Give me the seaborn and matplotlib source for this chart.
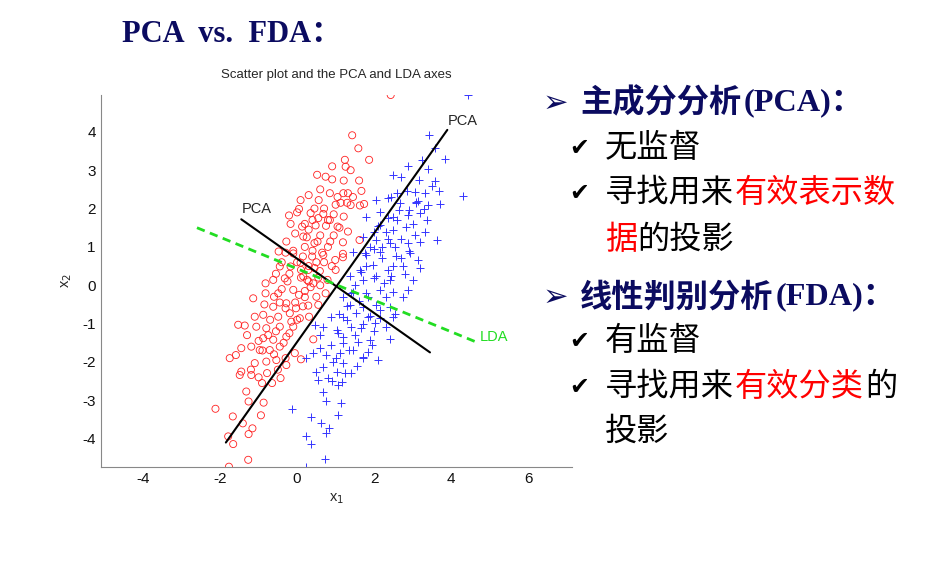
import pandas as pd
import matplotlib
matplotlib.use('Agg')
import matplotlib.pyplot as plt
import seaborn as sns

# ---- data ----
red_x = [2.43, 1.43, 1.59, 1.87, 1.24, 0.91, 1.39, 1.26, 0.52, 0.74, 0.91, 1.21, 1.61, 1.67, 1.32,
         0.30, 0.09, 0.56, 1.13, 1.74, 1.63, 1.39, -0.21, 0.05, 0.35, 0.68, 0.85, 1.21, -0.17, 0.13,
         0.48, 1.05, 1.32, 1.62, 1.19, 0.86, 0.53, 0.16, -0.28, -0.48, 1.19, 1.19, 0.68, 0.99, 0.39,
         -0.10, -0.45, -0.17, 0.09, 0.29, 0.59, 1.00, -0.82, -0.62, -0.32, 0.16, 0.26, 0.42, 0.79,
         -1.14, -0.82, -0.49, -0.10, 0.20, 0.50, 0.74, -0.62, -0.28, -0.03, 0.29, 0.55, -1.53, -1.36,
         -1.10, -0.88, -0.49, -0.19, 0.07, 0.31, -1.06, -0.80, -0.45, -0.10, -0.88, -0.62, -0.28, 0.42,
         -1.75, -1.59, -1.45, -1.19, -0.97, -0.71, -0.45, -0.06, -1.10, -0.80, -0.54, -0.28, 0.10,
         -1.45, -1.19, -0.78, -0.43, -1.49, -0.91, -0.65, -1.32, -0.87, -1.26, -2.12, -0.94, -1.67,
         -1.41, -1.16, -1.26, -1.79, -1.66, -1.27, -1.77,
         0.20, 0.40, 0.60, 0.80, 0.00, 0.30, 0.50, -0.20, 0.10, 0.35, -0.40, 0.05, -0.30, 0.00, -0.55,
         -0.35, -0.70, 0.60, 0.90, 1.10, 1.00, 0.70, 0.45, 0.20, -0.05, 0.95, 1.20, 0.60, -0.60, -0.90,
         -1.20, -0.30, 0.30, 0.55, 0.15, -0.15, 0.25, 0.70, 0.40, -0.40,
         -0.10, 0.15, 0.45, 0.75, 0.95, 1.05, 0.55, 0.30, -0.25, -0.05, -0.45, -0.75, -0.60, -1.00,
         -0.20, 0.20, 0.45, 0.65, -0.55, -0.85, -1.30, -1.00, -0.50, 0.80, 1.30, 0.10, -0.30, 0.85,
         1.45, 0.00]
red_y = [4.96, 3.91, 3.57, 3.27, 3.27, 3.10, 3.00, 3.09, 2.88, 2.83, 2.76, 2.73, 2.73, 2.46, 2.40,
         2.35, 2.22, 2.22, 2.15, 2.12, 2.08, 2.09, 1.82, 1.99, 1.88, 1.86, 1.70, 1.79, 1.60, 1.53,
         1.56, 1.53, 1.40, 1.18, 1.12, 1.14, 1.14, 1.27, 1.14, 0.88, 0.82, 0.73, 0.79, 0.66, 0.75,
         0.83, 0.49, 0.49, 0.59, 0.40, 0.37, 0.40, 0.05, 0.14, 0.18, 0.23, 0.14, 0.05, 0.14,
         -0.34, -0.21, -0.21, -0.12, -0.31, -0.30, -0.21, -0.56, -0.47, -0.60, -0.53, -0.51, -1.03, -1.05,
         -0.82, -0.77, -0.82, -0.73, -0.86, -0.82, -1.08, -1.12, -1.08, -1.08, -1.38, -1.42, -1.34, -1.41,
         -1.90, -1.82, -1.64, -1.60, -1.69, -1.69, -1.60, -1.77, -2.03, -1.99, -1.95, -2.08, -1.93,
         -2.25, -2.34, -2.29, -2.42, -2.34, -2.55, -2.55, -2.77, -3.06, -3.03, -3.22, -3.39, -3.42,
         -3.60, -3.73, -3.88, -3.94, -4.14, -4.55, -4.73,
         1.00, 0.90, 1.30, 1.00, 0.60, 0.50, 0.60, 0.30, 0.20, -0.05, -0.10, -0.25, -0.60, -0.90, -1.20,
         -1.50, -0.90, 0.00, 0.50, 1.50, 2.10, 2.00, 2.00, 1.60, 1.35, 1.30, 2.40, 2.50, -0.30, -1.70,
         -2.20, -1.90, 0.10, 0.20, -0.55, -0.95, 1.25, 0.60, 1.70, 0.60,
         0.90, 0.75, 1.10, 1.55, 1.85, 2.30, 1.75, 1.45, 0.10, -0.45, -0.45, -1.30, -1.80, -1.45,
         -1.25, -0.15, 0.45, 0.85, 0.30, -0.50, -1.30, -2.40, -2.20, 1.70, 2.15, 0.40, 0.85, 2.40,
         2.30, 1.90]

blue_x = [4.45, 3.43, 3.59, 3.85, 3.25, 3.41, 2.88, 2.49, 2.71, 3.17, 3.59, 4.31, 3.68, 3.31, 3.06,
          2.06, 2.36, 2.67, 3.10, 3.41, 3.71, 1.80, 2.15, 2.49, 2.88, 3.20, 3.36, 2.84, 2.49, 2.15,
          3.31, 3.62, 3.19, 2.88, 2.41, 2.06, 1.71, 1.45, 1.80, 2.15, 2.58, 2.93, 3.14, 2.75, 2.36,
          1.97, 1.63, 1.37, 1.71, 2.06, 2.41, 3.01, 2.88, 2.49, 2.15, 1.80, 1.45, 1.19, 1.37, 1.71,
          2.06, 2.41, 2.49, 2.15, 1.84, 1.54, 1.19, 0.89, 0.68, 0.46, 1.04, 1.39, 1.67, 2.03, 2.41,
          1.89, 1.58, 1.19, 0.89, 0.59, 0.42, 0.24, 0.76, 1.11, 1.45, 1.84, 2.10, 1.71, 1.19, 0.94,
          0.68, 1.04, 1.39, 0.50, 0.55, 0.81, 1.16, 0.68, 1.06, 0.75, 1.13, -0.13, 0.36, 0.62, 0.83,
          1.05, 0.75, 0.24, 0.35, 0.72, 0.22,
          2.20, 2.50, 2.00, 1.80, 2.30, 1.60, 2.70, 3.00, 3.10, 3.15, 2.60, 2.30, 1.90, 1.50, 1.30,
          1.50, 1.20, 1.90, 2.20, 2.80, 2.00, 1.70, 1.00, 2.60, 2.45, 2.90, 1.40, 1.75, 2.10, 2.55,
          2.00, 2.35, 2.65, 2.85, 3.30, 2.70, 2.25, 1.85, 1.65, 2.45, 2.15, 1.70, 1.35, 1.05, 1.25,
          0.90, 1.55, 1.30, 2.00, 3.05, 2.35, 1.95, 2.75, 3.20, 1.10, 0.60, 2.30, 2.90, 3.50, 2.55]
blue_y = [4.96, 3.92, 3.57, 3.28, 3.27, 3.02, 3.11, 2.88, 2.83, 2.75, 2.73, 2.33, 2.46, 2.40, 2.44,
          2.22, 2.27, 2.14, 2.18, 2.09, 2.12, 1.79, 1.92, 1.79, 1.83, 1.88, 1.70, 1.53, 1.44, 1.57,
          1.40, 1.18, 1.14, 1.09, 1.09, 1.18, 1.27, 0.88, 0.79, 0.88, 0.75, 0.83, 0.66, 0.49, 0.40,
          0.53, 0.40, 0.23, 0.14, 0.23, 0.14, 0.14, -0.12, -0.17, -0.12, -0.21, -0.17, -0.30, -0.51, -0.56,
          -0.51, -0.56, -0.82, -0.86, -0.82, -0.73, -0.82, -0.82, -1.08, -1.03, -1.16, -1.08, -1.12, -0.99, -1.41,
          -1.42, -1.47, -1.34, -1.56, -1.64, -1.77, -1.90, -1.82, -1.77, -1.69, -1.73, -1.95, -1.86, -2.03, -1.99,
          -2.12, -2.25, -2.29, -2.25, -2.47, -2.42, -2.51, -2.77, -2.60, -3.03, -3.06, -3.22, -3.44, -3.60, -3.73,
          -3.38, -3.86, -3.94, -4.14, -4.54, -4.73,
          1.00, 0.50, 0.20, 0.50, -0.30, -0.40, 1.20, 1.60, 2.15, 2.20, 1.70, 1.40, 1.00, 0.00, -0.90,
          -1.30, -1.50, -0.80, 0.70, 0.30, -1.20, -1.90, -1.90, 2.40, 2.30, 0.90, -0.20, 0.85, 1.55, 1.00,
          1.40, 1.75, 1.95, 2.45, 2.00, 0.70, 0.05, -0.30, 0.35, 0.25, -0.65, -1.00, -1.70, -1.25, -2.30,
          -2.50, -2.10, -0.55, 0.95, 1.30, 1.20, -1.55, -0.30, 0.45, -0.75, -1.30, -1.10, 1.95, 2.60, -0.75]

# projection axes (end points)
pca1_x = [-1.85, 3.90]
pca1_y = [-4.10, 4.05]
pca2_x = [-1.45, 3.45]
pca2_y = [1.72, -1.75]
lda_x = [-2.60, 4.70]
lda_y = [1.50, -1.50]

x_ticks = [-4, -2, 0, 2, 4, 6]
y_ticks = [-4, -3, -2, -1, 0, 1, 2, 3, 4]

red_df = pd.DataFrame({'x1': red_x, 'x2': red_y})
blue_df = pd.DataFrame({'x1': blue_x, 'x2': blue_y})

W, H = 943, 568
sns.set_theme(style='white')
plt.rcParams['font.family'] = ['Liberation Sans', 'DejaVu Sans']
plt.rcParams['axes.unicode_minus'] = False

fig = plt.figure(figsize=(W / 100, H / 100), dpi=100)
ax = fig.add_axes([100.7 / W, 1 - 466.7 / H, 471 / W, 371.7 / H])

sns.scatterplot(data=red_df, x='x1', y='x2', marker='o', s=26, facecolor='none',
                edgecolor='#ff2020', linewidth=0.6, ax=ax)
sns.scatterplot(data=blue_df, x='x1', y='x2', marker='+', s=32, color='#3535ff',
                edgecolor='#3535ff', linewidth=0.7, ax=ax)

ax.plot(pca1_x, pca1_y, color='black', lw=1.5)
ax.plot(pca2_x, pca2_y, color='black', lw=1.5)
ax.plot(lda_x, lda_y, color='#22dd22', lw=2, ls=(0, (3, 2)))
ax.text(pca1_x[1], pca1_y[1] + 0.05, 'PCA', fontsize=10.5, ha='left', va='bottom')
ax.text(pca2_x[0], pca2_y[0] + 0.08, 'PCA', fontsize=10.5, ha='left', va='bottom')
ax.text(lda_x[1] + 0.05, lda_y[1] + 0.15, 'LDA', fontsize=10.5, color='#22dd22', ha='left', va='center')

ax.set_xlim(-5.1, 7.13)
ax.set_ylim(-4.73, 4.96)
ax.set_xticks(x_ticks)
ax.set_yticks(y_ticks)
ax.tick_params(direction='in', length=3, labelsize=11, colors='#111111', width=0.6)
for s in ['top', 'right']:
    ax.spines[s].set_visible(False)
for s in ['left', 'bottom']:
    ax.spines[s].set_color('#888888')
    ax.spines[s].set_linewidth(0.8)
ax.set_xlabel('x$_1$', fontsize=10.5, labelpad=4)
ax.set_ylabel('x$_2$', fontsize=10.5, labelpad=6)
ax.set_title('Scatter plot and the PCA and LDA axes', fontsize=9.5, pad=12)

# ---- slide text ----
def fx(px):
    return px / W

def fy(py):
    return 1 - py / H

navy = '#0b0b60'
serif_cjk = ['Liberation Serif', 'Noto Sans CJK SC']
cjk = ['Noto Sans CJK SC', 'DejaVu Sans']
fs = 23.2
em = 32.5

fig.text(fx(122), fy(34), 'PCA  vs.  FDA：', fontsize=22, fontweight='bold',
         color=navy, family=serif_cjk, va='center')

def heading(y, cjk_txt, latin_txt):
    fig.text(fx(543), fy(y), '➢', fontsize=22, color=navy, family=['DejaVu Sans'], va='center')
    fig.text(fx(580), fy(y), cjk_txt, fontsize=fs, fontweight='bold', color=navy,
             family=cjk, va='center')
    fig.text(fx(580 + len(cjk_txt) * em + 1), fy(y), latin_txt, fontsize=fs, fontweight='bold',
             color=navy, family=serif_cjk, va='center')

def line(y, parts, check=True):
    if check:
        fig.text(fx(569), fy(y), '✔', fontsize=17, color='black', family=['DejaVu Sans'],
                 va='center')
    x = 605
    for txt, col in parts:
        fig.text(fx(x), fy(y), txt, fontsize=fs, color=col, family=cjk, va='center')
        x += len(txt) * em

heading(103, '主成分分析', '(PCA)：')
line(148, [('无监督', 'black')])
line(193, [('寻找用来', 'black'), ('有效表示数', 'red')])
line(240, [('据', 'red'), ('的投影', 'black')], check=False)
heading(297, '线性判别分析', '(FDA)：')
line(341, [('有监督', 'black')])
line(387, [('寻找用来', 'black'), ('有效分类', 'red'), ('的', 'black')])
line(432, [('投影', 'black')], check=False)

fig.savefig('out.png', dpi=100)
